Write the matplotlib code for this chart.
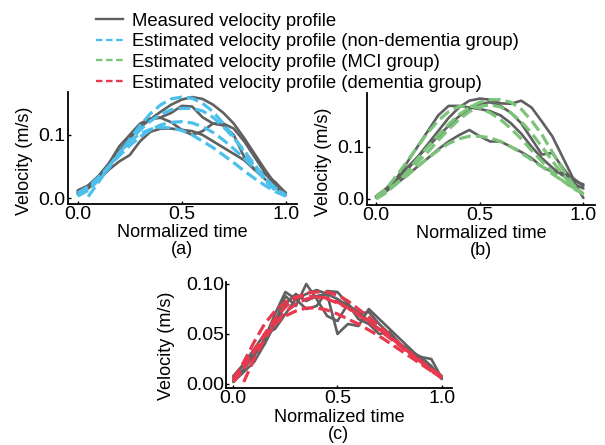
import numpy as np
import matplotlib
matplotlib.use("Agg")
import matplotlib.pyplot as plt
from matplotlib.lines import Line2D

plt.rcParams['font.family'] = ['Liberation Sans', 'DejaVu Sans']

nan = np.nan
# normalized time grid shared by all curves
t = [0.00, 0.05, 0.10, 0.15, 0.20, 0.25, 0.30, 0.35, 0.40, 0.45, 0.50,
     0.55, 0.60, 0.65, 0.70, 0.75, 0.80, 0.85, 0.90, 0.95, 1.00]

# ---- (a) non-dementia group ----
meas_a = [
    [0.012, 0.020, 0.035, 0.055, 0.075, 0.095, 0.112, 0.125, 0.137, 0.148, 0.156,
     0.160, 0.157, 0.148, 0.135, 0.118, 0.095, 0.070, 0.045, 0.022, 0.008],
    [0.010, 0.018, 0.030, 0.050, 0.072, 0.095, 0.115, 0.125, 0.128, 0.135, 0.146,
     0.145, 0.128, 0.118, 0.118, 0.110, 0.090, 0.065, 0.040, 0.020, 0.006],
    [0.008, 0.016, 0.030, 0.055, 0.082, 0.100, 0.118, 0.126, 0.127, 0.120, 0.108,
     0.100, 0.106, 0.118, 0.115, 0.100, 0.065, 0.045, 0.038, 0.025, 0.008],
    [0.006, 0.015, 0.028, 0.045, 0.058, 0.068, 0.090, 0.105, 0.110, 0.110, 0.108,
     0.106, 0.100, 0.090, 0.080, 0.070, 0.060, 0.045, 0.030, 0.017, 0.005],
]
est_a = [
    [0.003, 0.012, 0.028, 0.048, 0.070, 0.093, 0.115, 0.134, 0.148, 0.157, 0.160,
     0.158, 0.150, 0.137, 0.118, 0.097, 0.073, 0.050, 0.028, 0.012, 0.003],
    [0.005, 0.015, 0.030, 0.050, 0.070, 0.090, 0.108, 0.122, 0.133, 0.140, 0.142,
     0.142, 0.138, 0.128, 0.113, 0.095, 0.075, 0.053, 0.032, 0.015, 0.004],
    [0.008, 0.018, 0.033, 0.050, 0.067, 0.083, 0.097, 0.108, 0.116, 0.120, 0.121,
     0.119, 0.113, 0.104, 0.092, 0.078, 0.063, 0.047, 0.031, 0.016, 0.005],
    [nan, 0.002, 0.025, 0.050, 0.072, 0.090, 0.102, 0.109, 0.112, 0.111, 0.107,
     0.100, 0.090, 0.080, 0.068, 0.056, 0.043, 0.031, 0.020, 0.010, 0.003],
]

# ---- (b) MCI group ----
meas_b = [
    [0.005, 0.020, 0.040, 0.070, 0.100, 0.130, 0.160, 0.178, 0.178, 0.175, 0.172,
     0.168, 0.160, 0.145, 0.125, 0.100, 0.078, 0.060, 0.045, 0.030, 0.020],
    [0.003, 0.015, 0.035, 0.055, 0.080, 0.105, 0.130, 0.155, 0.175, 0.188, 0.192,
     0.190, 0.183, 0.182, 0.188, 0.175, 0.148, 0.120, 0.080, 0.040, 0.025],
    [0.005, 0.015, 0.030, 0.045, 0.062, 0.078, 0.095, 0.110, 0.122, 0.132, 0.120,
     0.110, 0.110, 0.100, 0.090, 0.078, 0.062, 0.052, 0.050, 0.035, 0.002],
    [0.005, 0.020, 0.040, 0.060, 0.080, 0.100, 0.120, 0.140, 0.158, 0.172, 0.182,
     0.185, 0.178, 0.165, 0.145, 0.115, 0.085, 0.088, 0.060, 0.035, 0.028],
]
est_b = [
    [0.000, 0.012, 0.030, 0.052, 0.077, 0.100, 0.122, 0.143, 0.161, 0.175, 0.185,
     0.190, 0.190, 0.185, 0.172, 0.150, 0.123, 0.090, 0.057, 0.028, 0.008],
    [0.003, 0.020, 0.045, 0.072, 0.100, 0.127, 0.150, 0.167, 0.177, 0.178, 0.174,
     0.165, 0.152, 0.135, 0.115, 0.093, 0.072, 0.052, 0.035, 0.020, 0.010],
    [0.005, 0.015, 0.030, 0.045, 0.062, 0.078, 0.093, 0.106, 0.115, 0.120, 0.120,
     0.117, 0.110, 0.100, 0.088, 0.075, 0.062, 0.048, 0.035, 0.022, 0.010],
    [0.003, 0.015, 0.030, 0.050, 0.070, 0.090, 0.112, 0.133, 0.152, 0.167, 0.177,
     0.180, 0.176, 0.165, 0.148, 0.126, 0.100, 0.073, 0.047, 0.024, 0.010],
]

# ---- (c) dementia group ----
meas_c = [
    [0.008, 0.020, 0.030, 0.040, 0.062, 0.088, 0.078, 0.100, 0.085, 0.068, 0.063,
     0.080, 0.065, 0.060, 0.050, 0.052, 0.040, 0.030, 0.027, 0.025, 0.006],
    [0.004, 0.015, 0.028, 0.045, 0.070, 0.092, 0.085, 0.075, 0.078, 0.093, 0.092,
     0.080, 0.070, 0.072, 0.060, 0.050, 0.040, 0.033, 0.027, 0.018, 0.005],
    [0.002, 0.012, 0.022, 0.040, 0.060, 0.080, 0.090, 0.083, 0.088, 0.090, 0.050,
     0.060, 0.058, 0.075, 0.065, 0.055, 0.045, 0.035, 0.025, 0.015, 0.008],
    [0.006, 0.020, 0.035, 0.050, 0.055, 0.070, 0.085, 0.090, 0.094, 0.090, 0.085,
     0.078, 0.072, 0.063, 0.055, 0.050, 0.040, 0.032, 0.024, 0.015, 0.006],
]
est_c = [
    [0.002, 0.015, 0.032, 0.050, 0.065, 0.077, 0.086, 0.091, 0.092, 0.092, 0.089,
     0.083, 0.075, 0.067, 0.058, 0.049, 0.040, 0.031, 0.022, 0.013, 0.006],
    [nan, 0.002, 0.025, 0.045, 0.060, 0.072, 0.080, 0.085, 0.087, 0.086, 0.082,
     0.076, 0.070, 0.063, 0.055, 0.047, 0.039, 0.031, 0.023, 0.015, 0.008],
    [0.003, 0.018, 0.034, 0.048, 0.060, 0.068, 0.073, 0.076, 0.076, 0.074, 0.070,
     0.065, 0.060, 0.054, 0.048, 0.041, 0.034, 0.027, 0.020, 0.013, 0.007],
    [0.005, 0.022, 0.042, 0.060, 0.073, 0.082, 0.087, 0.088, 0.087, 0.085, 0.081,
     0.076, 0.069, 0.062, 0.054, 0.046, 0.038, 0.030, 0.022, 0.014, 0.006],
]

x_ticks = [0.0, 0.5, 1.0]
y_ticks_ab = [0.0, 0.1]
y_ticks_c = [0.00, 0.05, 0.10]
legend_labels = ["Measured velocity profile",
                 "Estimated velocity profile (non-dementia group)",
                 "Estimated velocity profile (MCI group)",
                 "Estimated velocity profile (dementia group)"]
panel_labels = ["(a)", "(b)", "(c)"]

GRAY = '#606060'
BLUE = '#4cc0ec'
GREEN = '#7cc47a'
RED = '#e8394f'

W, H = 605, 445
fig = plt.figure(figsize=(W / 100, H / 100), dpi=100)


def px_axes(l, r, top, bot):
    return fig.add_axes([l / W, (H - bot) / H, (r - l) / W, (bot - top) / H])


ax_a = px_axes(67.5, 297, 92, 203.5)
ax_b = px_axes(366.7, 595, 93, 205)
ax_c = px_axes(226, 451.7, 281.7, 388.3)

specs = [
    (ax_a, meas_a, est_a, BLUE, (-0.049, 1.054), (-0.0087, 0.168), y_ticks_ab, '%.1f', (-0.150, 0.38)),
    (ax_b, meas_b, est_b, GREEN, (-0.045, 1.056), (-0.0115, 0.2027), y_ticks_ab, '%.1f', (-0.152, 0.39)),
    (ax_c, meas_c, est_c, RED, (-0.035, 1.048), (-0.0043, 0.1023), y_ticks_c, '%.2f', (-0.226, 0.40)),
]

for (ax, meas, est, col, xl, yl, yt, fmt, lab), plab in zip(specs, panel_labels):
    for m, e in zip(meas, est):
        ax.plot(t, m, color=GRAY, lw=1.9, solid_capstyle='round', zorder=2)
        ax.plot(t, e, color=col, lw=2.3, ls=(0, (3.7, 1.6)), zorder=3)
    ax.set_xlim(*xl)
    ax.set_ylim(*yl)
    ax.set_xticks(x_ticks)
    ax.set_xticklabels(['%.1f' % v for v in x_ticks])
    ax.set_yticks(yt)
    ax.set_yticklabels([fmt % v for v in yt])
    for s in ['top', 'right']:
        ax.spines[s].set_visible(False)
    for s in ['left', 'bottom']:
        ax.spines[s].set_linewidth(1.3)
    ax.tick_params(direction='in', length=2.5, width=1.0, labelsize=14, pad=1.5)
    ax.set_xlabel("Normalized time\n" + plab, fontsize=13, labelpad=1.0, linespacing=1.0)
    ax.set_ylabel("Velocity (m/s)", fontsize=13)
    ax.yaxis.set_label_coords(*lab)

dash = (0, (2.75, 1.5))
handles = [
    Line2D([], [], color=GRAY, lw=1.7),
    Line2D([], [], color=BLUE, lw=1.7, ls=dash),
    Line2D([], [], color=GREEN, lw=1.7, ls=dash),
    Line2D([], [], color=RED, lw=1.7, ls=dash),
]
fig.legend(handles, legend_labels, loc='upper left', bbox_to_anchor=(96 / W, 1 - 12.5 / H),
           frameon=False, fontsize=13.3, handlelength=1.46, handletextpad=0.49,
           labelspacing=0.2, borderpad=0, borderaxespad=0)

fig.savefig('out.png', dpi=100)
